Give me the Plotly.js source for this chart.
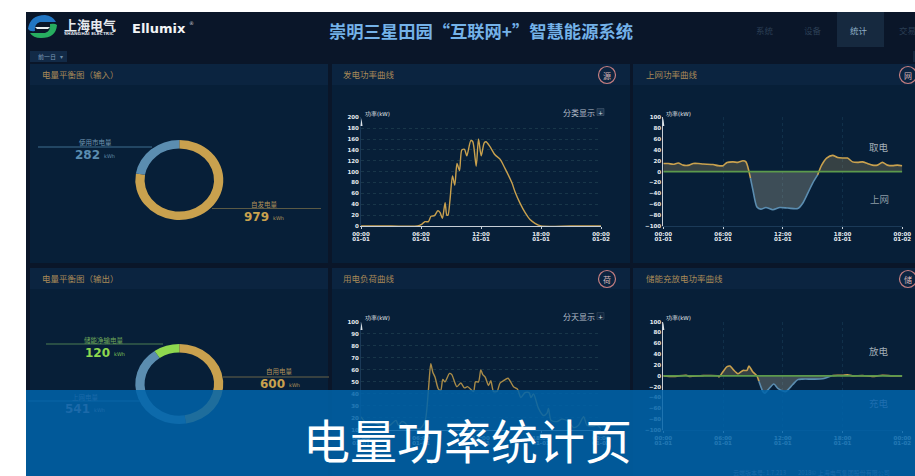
<!DOCTYPE html>
<html>
<head>
<meta charset="utf-8">
<title>崇明三星田园“互联网+”智慧能源系统</title>
<script src="https://cdn.plot.ly/plotly-3.0.1.min.js"></script>
<style>html,body{margin:0;padding:0;background:#fff;overflow:hidden}</style>
</head>
<body>
<div id="chart"></div>
<script>
// Energy balance, kWh
const inputLabels = ['自发电量', '使用市电量'];
const inputValues = [979, 282];
const outputLabels = ['自用电量', '上网电量', '储能净输电量'];
const outputValues = [600, 541, 120];

// Axis labelling shared by the four power curves
const hourTicks = [0, 6, 12, 18, 24];
const hourLabels = ['00:00<br>01-01', '06:00<br>01-01', '12:00<br>01-01', '18:00<br>01-01', '00:00<br>01-02'];

// Generation power, hours / kW
const genHours = [0, 3, 5.64, 6.07, 6.4, 6.74, 7, 7.35, 7.68, 7.9, 8.14, 8.41, 8.58, 8.7, 8.9, 9.15, 9.38, 9.6, 9.85, 10.08, 10.35, 10.58, 10.98, 11.18, 11.52, 11.75, 12.02, 12.32, 12.5, 12.9, 13.4, 13.9, 14.4, 15.1, 15.4, 15.9, 16.4, 16.9, 17.4, 18, 21, 24];
const genPower = [0, 0, 0, 3, 8, 8, 18, 19, 28, 25, 14, 43, 20, 20, 48, 92, 75, 115, 102, 140, 141, 129, 157, 155, 110, 160, 129, 153, 155, 146, 131, 123, 106, 79, 63, 42, 25, 12, 5, 0, 0, 0];

// Grid exchange power, hours / kW: drawing before and after the midday export
const drawMorningHours = [0, 0.5, 1, 1.5, 2, 2.6, 3, 3.5, 4, 5, 5.5, 6, 6.4, 7, 7.5, 8, 8.3, 8.75];
const drawMorningPower = [15, 15, 13.5, 16, 12, 12, 15, 15, 14, 13, 11, 11, 17, 18, 17, 20, 18, -12];
const drawEveningHours = [15.5, 15.9, 16.4, 17, 17.5, 18, 18.5, 19, 19.5, 20, 20.5, 21, 21.5, 22, 22.5, 23, 23.5, 24];
const drawEveningPower = [-6, 12, 25, 30, 26, 25, 25, 18, 17, 18, 15, 12, 12, 17, 12, 11, 12, 11];
const feedHours = [8.75, 9, 9.4, 9.8, 10.3, 11, 11.7, 12.5, 13.5, 14, 14.5, 15, 15.5];
const feedPower = [-12, -34, -65, -69, -66, -70, -66, -67, -68, -58, -40, -21, -6];

// Load power, hours / kW
const loadHours = [0, 0.4, 1.1, 1.9, 2.4, 2.9, 3.5, 3.74, 4.07, 4.4, 4.6, 5.24, 5.9, 6.4, 6.74, 6.98, 7.18, 7.4, 7.74, 7.98, 8.18, 8.4, 8.85, 9.08, 9.58, 9.98, 10.35, 10.65, 11.25, 11.45, 11.75, 11.98, 12.18, 12.42, 12.75, 12.98, 13.25, 13.6, 13.9, 14.25, 14.7, 15.25, 15.65, 15.98, 16.4, 16.8, 17, 17.25, 17.75, 18.25, 18.6, 18.75, 19, 19.6, 20.1, 20.75, 21.26, 21.76, 22.26, 22.6, 23.1, 23.6, 24];
const loadPower = [21, 17, 17, 14, 12, 14, 18, 14, 17, 16, 14, 12, 11, 17, 43, 65, 58, 54, 44, 43, 52, 50, 57, 56, 46, 49, 45, 46, 42, 50, 50, 60, 56, 54, 47, 51, 42, 42, 49, 51, 53, 46, 44, 37, 41, 41, 37, 40, 28, 22, 24, 28, 18, 17, 19, 17, 12, 14, 21, 14, 13, 14, 11];

// Storage power, hours / kW: discharge spells and the midday charge
const dischargeMorningHours = [0, 1, 2.3, 2.6, 4, 5.5, 5.6, 6, 6.4, 6.7, 7, 7.5, 8, 8.4, 8.6, 9, 9.4, 9.6];
const dischargeMorningPower = [0, -1, 1, -1, 0.5, 0, -2, 8, 17, 18, 12, 4, 10, 10, 18, 7, 0, -10];
const dischargeEveningHours = [17, 17.5, 18, 18.5, 19, 20, 21, 22, 23, 24];
const dischargeEveningPower = [0.5, 1, 1, 2, 0, 0.5, -1, 1, 0, 0];
const chargeHours = [9.6, 9.8, 10, 10.2, 10.5, 11.1, 11.5, 12, 12.3, 13, 13.5, 14, 15, 16, 16.5, 17];
const chargePower = [-10, -20, -29, -32, -26, -15, -23, -28, -29, -16, -7, -6, -6, -5.5, -2.5, 0.5];

const W = 915, H = 476;
const GOLD = '#c9a14e', BLUE = '#5b8db0', GREEN = '#8ed84f', ZERO = '#5c9a4c';
const AXIS_LIGHT = '#c6ced6', AXIS_DIM = '#1b3a58', TICK = '#e6ebef';
const CJK = '"Noto Sans CJK SC", sans-serif';
const LATIN = '"DejaVu Sans", sans-serif';

const px = x => x / W;
const py = y => 1 - y / H;

function label(x, y, text, size, color, anchor, family) {
  return {
    xref: 'paper', yref: 'paper', x: px(x), y: py(y), text,
    showarrow: false, xanchor: anchor || 'center', yanchor: 'middle',
    font: { size, color, family: family || CJK }
  };
}
function rect(x0, y0, x1, y1, fill, layer) {
  return {
    type: 'rect', xref: 'paper', yref: 'paper', layer: layer || 'below',
    x0: px(x0), x1: px(x1), y0: py(y0), y1: py(y1),
    fillcolor: fill, line: { width: 0 }
  };
}
function rule(x0, y0, x1, y1, color, width) {
  return {
    type: 'line', xref: 'paper', yref: 'paper', layer: 'above',
    x0: px(x0), x1: px(x1), y0: py(y0), y1: py(y1),
    line: { color, width: width || 1 }
  };
}
function ring(cx, cy, r, color) {
  return {
    type: 'circle', xref: 'paper', yref: 'paper', layer: 'above',
    x0: px(cx - r), x1: px(cx + r), y0: py(cy - r), y1: py(cy + r),
    line: { color, width: 1.2 }
  };
}
// Builds a paper-space path from [command, x, y, ...] pieces given in page pixels
function outline(parts, fill, color, width) {
  const d = parts.map(p => p[0] + ' ' + p.slice(1).map((v, i) => (i % 2 ? py(v) : px(v)).toFixed(5)).join(' ')).join(' ') + ' Z';
  return {
    type: 'path', xref: 'paper', yref: 'paper', layer: 'above', path: d,
    fillcolor: fill, line: { color: color || fill, width: width === undefined ? 0 : width }
  };
}

const tickFont = { size: 5.5, color: TICK, family: LATIN, weight: 'bold' };

function xAxis(x0, x1, anchor, color) {
  return {
    domain: [px(x0), px(x1)], anchor, range: [0, 24], layer: 'below traces',
    tickmode: 'array', tickvals: hourTicks, ticktext: hourLabels,
    showline: true, linecolor: color, linewidth: 1,
    ticks: 'outside', ticklen: 2, tickcolor: AXIS_LIGHT,
    tickfont: tickFont, showgrid: false, zeroline: false
  };
}
function yAxis(y0, y1, anchor, range, dtick, color) {
  return {
    domain: [py(y1), py(y0)], anchor, range, dtick, tick0: range[0],
    showline: true, linecolor: color, linewidth: 1, ticks: '',
    tickfont: tickFont, showgrid: false, zeroline: false
  };
}

const hGrid = { showgrid: true, gridcolor: '#183649', griddash: 'dot', gridwidth: 1 };
const vGrid = { showgrid: true, gridcolor: '#10304a', griddash: 'dot', gridwidth: 1 };

function curve(x, y, color, xa, ya, fill, width) {
  const t = {
    type: 'scatter', mode: 'lines', x, y, xaxis: xa, yaxis: ya, cliponaxis: false,
    line: { color, width: width || 1.4, shape: 'spline', smoothing: 0.7 }, hoverinfo: 'skip'
  };
  if (fill) { t.fill = 'tozeroy'; t.fillcolor = fill; }
  return t;
}
function zeroRule(xa, ya) {
  return { type: 'scatter', mode: 'lines', x: [0, 24], y: [0, 0], xaxis: xa, yaxis: ya, line: { color: ZERO, width: 1.6 }, hoverinfo: 'skip' };
}
function donut(labels, values, colors, cx, cy, r) {
  return {
    type: 'pie', labels, values, hole: 0.79, sort: false, direction: 'clockwise', rotation: 0,
    textinfo: 'none', hoverinfo: 'skip', showlegend: false,
    marker: { colors, line: { width: 0 } },
    domain: { x: [px(cx - r), px(cx + r)], y: [py(cy + r), py(cy - r)] }
  };
}

const FILL_UP = 'rgba(245,205,120,0.2)';
const FILL_DOWN = 'rgba(235,225,190,0.24)';

const traces = [
  donut(inputLabels, inputValues, [GOLD, BLUE], 179.3, 180, 40),
  donut(outputLabels, outputValues, [GOLD, BLUE, GREEN], 179.3, 384, 40),
  curve(genHours, genPower, GOLD, 'x', 'y'),
  curve(drawMorningHours, drawMorningPower, GOLD, 'x2', 'y2', FILL_UP, 1.6),
  curve(drawEveningHours, drawEveningPower, GOLD, 'x2', 'y2', FILL_UP, 1.6),
  curve(feedHours, feedPower, BLUE, 'x2', 'y2', FILL_DOWN, 1.6),
  zeroRule('x2', 'y2'),
  curve(loadHours, loadPower, '#a98b48', 'x3', 'y3'),
  curve(dischargeMorningHours, dischargeMorningPower, GOLD, 'x4', 'y4', FILL_UP, 1.6),
  curve(dischargeEveningHours, dischargeEveningPower, GOLD, 'x4', 'y4', FILL_UP, 1.6),
  curve(chargeHours, chargePower, BLUE, 'x4', 'y4', FILL_DOWN, 1.6),
  zeroRule('x4', 'y4')
];

const PANEL = '#071f38', HEAD = '#0b2440', PAGE = '#0a1629', NAV_ON = '#16293f';
const TITLE_GOLD = '#a98a58';
const shapes = [
  rect(26, 12, 915, 476, PAGE),
  rect(837, 12, 884, 47, NAV_ON),
  rect(30, 51, 67, 62, '#122a47'),
  rect(913, 51, 915, 62, '#16293f')
];
[[30, 328], [332, 630], [633, 915]].forEach(([a, b]) => {
  shapes.push(rect(a, 64, b, 263, PANEL), rect(a, 64, b, 85, HEAD));
  shapes.push(rect(a, 268, b, 476, PANEL), rect(a, 268, b, 289, HEAD));
});

// Company mark
shapes.push(
  outline([['M', 28, 29], ['Q', 30, 15, 45, 15], ['Q', 53, 16, 56, 22], ['L', 40, 22], ['Q', 34, 24, 35, 31], ['Q', 30, 32, 28, 29]], '#2176c4'),
  outline([['M', 57, 25], ['Q', 56, 38, 41, 38], ['Q', 33, 38, 30, 33], ['L', 45, 33], ['Q', 51, 31, 50, 24], ['Q', 55, 23, 57, 25]], '#27ae60'),
  outline([['M', 35, 27], ['L', 50, 27], ['L', 48, 29], ['L', 37, 29]], '#e8f0f2')
);

// Leader lines next to the donuts
shapes.push(
  rule(38, 147, 152, 147, '#3f6f8f'),
  rule(212, 208.5, 321, 208.5, '#5b5a45'),
  rule(46, 344, 163, 344, '#4d7f52'),
  rule(223, 377, 329, 377, '#6a6548', 1.2),
  rule(28, 401, 140, 401, '#3f6f8f')
);

// Corner badges on the curve panels
[[607, 75], [908, 75], [607, 279], [908, 279]].forEach(([x, y]) => shapes.push(ring(x, y, 8.5, '#c47e80')));

// Arrow tips on the vertical axes
[[361.5, 117], [663.3, 117], [361.5, 321], [663.3, 321]].forEach(([x, y]) => {
  shapes.push(outline([['M', x - 1, y + 9], ['L', x, y + 1], ['L', x + 1, y + 9]], '#dde3e8'));
});

// "+" toggles beside the category switch
shapes.push(
  { type: 'rect', xref: 'paper', yref: 'paper', layer: 'above', x0: px(597), x1: px(604), y0: py(115.5), y1: py(108.5), fillcolor: '#1a3550', line: { color: '#44586c', width: 0.6 } },
  { type: 'rect', xref: 'paper', yref: 'paper', layer: 'above', x0: px(597), x1: px(604), y0: py(319.5), y1: py(312.5), fillcolor: '#10263f', line: { color: '#33475b', width: 0.6 } }
);

// Caption band across the bottom of the page
shapes.push(rect(26, 390, 915, 476, 'rgba(0,100,170,0.85)', 'above'));

const annotations = [
  label(62, 24, '<b>上海电气</b>', 13, '#e6eaee', 'left'),
  label(61.5, 33.5, '<b>SHANGHAI ELECTRIC</b>', 4.3, '#d8dde2', 'left', LATIN),
  label(130, 28, '<b>Ellumix</b>', 13, '#f2f4f6', 'left', LATIN),
  label(187, 23, '®', 5, '#c8cdd2', 'left', LATIN),
  label(481, 30, '<b>崇明三星田园“互联网+”智慧能源系统</b>', 17.3, '#74b2e8'),
  label(765, 29.5, '系统', 8.5, '#2a3e54'),
  label(813, 29.5, '设备', 8.5, '#2a3e54'),
  label(859, 29.5, '统计', 8.5, '#8fb0c8'),
  label(907, 29.5, '交易', 8.5, '#2a3e54'),
  label(36, 56.5, '前一日', 6, '#7f9db8', 'left'),
  label(61, 56.5, '▾', 6, '#6f8da8'),

  label(40, 74, '电量平衡图（输入）', 8.5, TITLE_GOLD, 'left'),
  label(341, 74, '发电功率曲线', 8.5, TITLE_GOLD, 'left'),
  label(644, 74, '上网功率曲线', 8.5, TITLE_GOLD, 'left'),
  label(40, 278, '电量平衡图（输出）', 8.5, TITLE_GOLD, 'left'),
  label(341, 278, '用电负荷曲线', 8.5, TITLE_GOLD, 'left'),
  label(644, 278, '储能充放电功率曲线', 8.5, TITLE_GOLD, 'left'),
  label(607, 75, '源', 8, '#d9b8b8'),
  label(908, 75, '网', 8, '#d9b8b8'),
  label(607, 279, '荷', 8, '#d9b8b8'),
  label(908, 279, '储', 8, '#d9b8b8'),

  label(95, 142, '使用市电量', 6.5, '#6f95b0'),
  label(87, 155, '<b>' + inputValues[1] + '</b>', 12, BLUE, 'center', LATIN),
  label(109, 156, 'kWh', 5, '#5f89a8', 'center', LATIN),
  label(264, 204, '自发电量', 6.5, '#b0925a'),
  label(256, 217, '<b>' + inputValues[0] + '</b>', 12, GOLD, 'center', LATIN),
  label(278, 218, 'kWh', 5, '#b0925a', 'center', LATIN),
  label(104, 340, '储能净输电量', 6.5, '#6fa85a'),
  label(97, 353, '<b>' + outputValues[2] + '</b>', 12, GREEN, 'center', LATIN),
  label(119, 354, 'kWh', 5, '#7cbf55', 'center', LATIN),
  label(279, 371, '自用电量', 6.5, '#b0925a'),
  label(272, 384, '<b>' + outputValues[0] + '</b>', 12, GOLD, 'center', LATIN),
  label(294, 385, 'kWh', 5, '#b0925a', 'center', LATIN),
  label(85, 397, '上网电量', 6.5, '#1c6aaa'),
  label(77, 409, '<b>' + outputValues[1] + '</b>', 12, '#1c6aaa', 'center', LATIN),
  label(99, 410, 'kWh', 5, '#1c6aaa', 'center', LATIN),

  label(377, 113, '功率(kW)', 5.5, TICK, 'center', LATIN),
  label(678, 113, '功率(kW)', 5.5, TICK, 'center', LATIN),
  label(377, 317, '功率(kW)', 5.5, TICK, 'center', LATIN),
  label(678, 317, '功率(kW)', 5.5, TICK, 'center', LATIN),
  label(579, 112, '分类显示', 8, '#b4bec8'),
  label(600.5, 112, '+', 6, '#d4dbe2', 'center', LATIN),
  label(579, 316, '分天显示', 8, '#b4bec8'),
  label(600.5, 316, '+', 6, '#d4dbe2', 'center', LATIN),
  label(879, 147, '取电', 9.5, '#a2adb5'),
  label(879, 199, '上网', 9.5, '#8c9ba6'),
  label(879, 351, '放电', 9.5, '#a2adb5'),
  label(879, 403, '充电', 9.5, '#1f6eb0'),

  label(811, 472, '云端版本号: 1.7.213　　2018© 上海电气集团股份有限公司', 6, '#1c6aaa'),
  label(468, 438, '电量功率统计页', 47, '#ffffff')
];

const layout = {
  width: W, height: H, margin: { l: 0, r: 0, t: 0, b: 0 },
  paper_bgcolor: '#ffffff', plot_bgcolor: 'rgba(0,0,0,0)', showlegend: false,
  xaxis: xAxis(361, 601, 'y', AXIS_LIGHT),
  yaxis: Object.assign(yAxis(117.3, 226, 'x', [0, 200], 20, AXIS_DIM), hGrid),
  xaxis2: Object.assign(xAxis(663.3, 902.3, 'y2', AXIS_DIM), vGrid),
  yaxis2: yAxis(117.3, 226, 'x2', [-100, 100], 20, AXIS_LIGHT),
  xaxis3: xAxis(361, 601, 'y3', AXIS_LIGHT),
  yaxis3: Object.assign(yAxis(321.7, 430, 'x3', [10, 100], 10, AXIS_DIM), hGrid),
  xaxis4: Object.assign(xAxis(663.3, 902.3, 'y4', AXIS_DIM), vGrid),
  yaxis4: yAxis(321.7, 430, 'x4', [-100, 100], 20, AXIS_LIGHT),
  shapes, annotations
};

Plotly.newPlot('chart', traces, layout, { displayModeBar: false, staticPlot: true }).then(gd => {
  // The dashboard draws its donuts slightly wider than tall
  gd.querySelectorAll('.pielayer .trace').forEach(g => {
    const cx = 179.3;
    g.setAttribute('transform', 'translate(' + cx + ',0) scale(1.1,1) translate(' + (-cx) + ',0)');
  });
  // Two-line time labels sit closer together than the default line height
  gd.querySelectorAll('.xtick text tspan.line, .x2tick text tspan.line, .x3tick text tspan.line, .x4tick text tspan.line').forEach(t => {
    if (parseFloat(t.getAttribute('dy')) > 0) t.setAttribute('dy', '1.02em');
  });
});
</script>
</body>
</html>
